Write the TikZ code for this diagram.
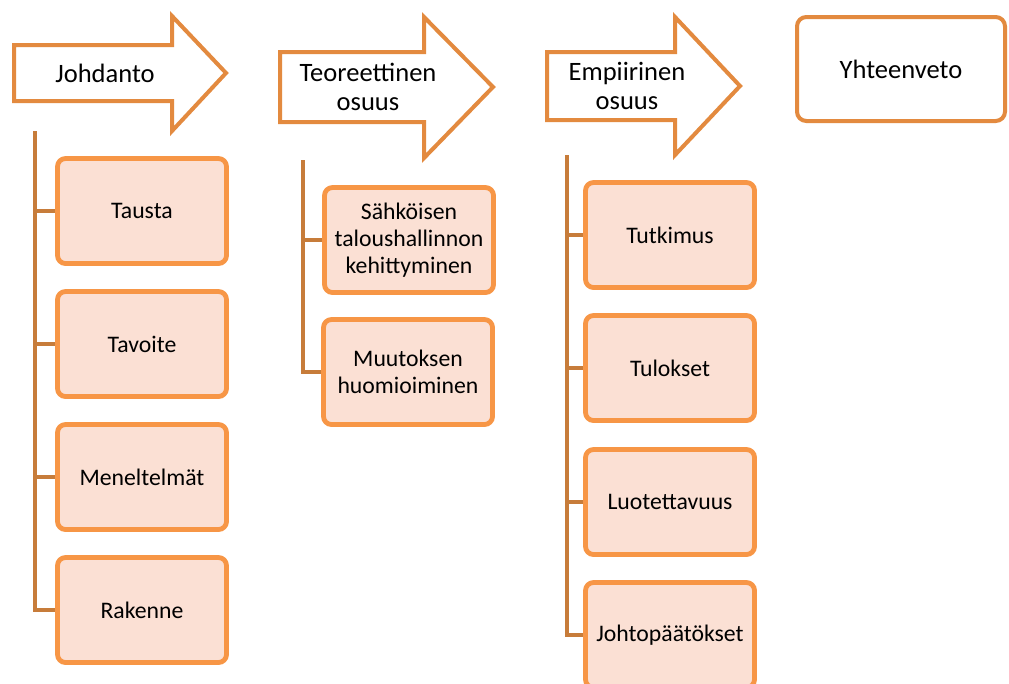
\documentclass[tikz,border=0pt]{standalone}
\usepackage{fontspec}
\setmainfont{Carlito}
\definecolor{partline}{HTML}{E38A3F}
\definecolor{itemline}{HTML}{F79646}
\definecolor{itemfill}{HTML}{FBE0D4}
\definecolor{spineline}{HTML}{C77C3A}

\tikzset{
  part/.style={draw=partline,line width=3pt,fill=white,line join=miter},
  parttext/.style={align=center,font=\fontsize{19.9}{22}\selectfont,inner sep=0pt},
  item/.style={draw=itemline,line width=3.6pt,fill=itemfill,rounded corners=6pt,
    minimum width=126.75pt,minimum height=78.75pt,inner sep=0pt,align=center,
    font=\fontsize{17.8}{20}\selectfont},
  spine/.style={draw=spineline,line width=3pt},
  twig/.style={draw=spineline,line width=2.6pt}
}

\begin{document}
\begin{tikzpicture}[x=0.75pt,y=-0.75pt]
\useasboundingbox (0,0) rectangle (1009,683);
% parts
\draw[part] (14,45) -- (172,45) -- (172,16) -- (226,73) -- (172,131) -- (172,101) -- (14,101) -- cycle;
\node[parttext] (johdanto) at (105,73) {Johdanto};
\draw[part] (280,52) -- (424,52) -- (424,17) -- (493,87) -- (424,158) -- (424,122) -- (280,122) -- cycle;
\node[parttext] (teoria) at (368,87) {Teoreettinen\\osuus};
\draw[part] (547,52) -- (675,52) -- (675,17) -- (740,86) -- (675,155) -- (675,120) -- (547,120) -- cycle;
\node[parttext] (empiria) at (627,86) {Empiirinen\\osuus};
\node[parttext,draw=partline,line width=3pt,fill=white,rounded corners=7pt,
  minimum width=156pt,minimum height=78pt] (yhteenveto) at (901,69) {Yhteenveto};
% johdanto
\node[item] (tausta) at (142,211) {Tausta};
\node[item] (tavoite) at (142,344) {Tavoite};
\node[item] (menetelmat) at (142,477) {Meneltelmät};
\node[item] (rakenne) at (142,610) {Rakenne};
\coordinate (johdantospine) at (35,131);
\draw[spine] (johdantospine) |- (rakenne.west);
\foreach \n in {tausta,tavoite,menetelmat}
  \draw[twig] (\n.west -| johdantospine) -- (\n.west);
% teoreettinen osuus
\node[item] (sahkoinen) at (409,240) {Sähköisen\\taloushallinnon\\kehittyminen};
\node[item] (muutos) at (408,372) {Muutoksen\\huomioiminen};
\coordinate (teoriaspine) at (303,160);
\draw[spine] (teoriaspine) |- (muutos.west);
\draw[twig] (sahkoinen.west -| teoriaspine) -- (sahkoinen.west);
% empiirinen osuus
\node[item] (tutkimus) at (670,235) {Tutkimus};
\node[item] (tulokset) at (670,368) {Tulokset};
\node[item] (luotettavuus) at (670,502) {Luotettavuus};
\node[item] (johtopaatokset) at (670,635) {Johtopäätökset};
\coordinate (empiriaspine) at (567,155);
\draw[spine] (empiriaspine) |- (johtopaatokset.west);
\foreach \n in {tutkimus,tulokset,luotettavuus}
  \draw[twig] (\n.west -| empiriaspine) -- (\n.west);
\end{tikzpicture}
\end{document}
